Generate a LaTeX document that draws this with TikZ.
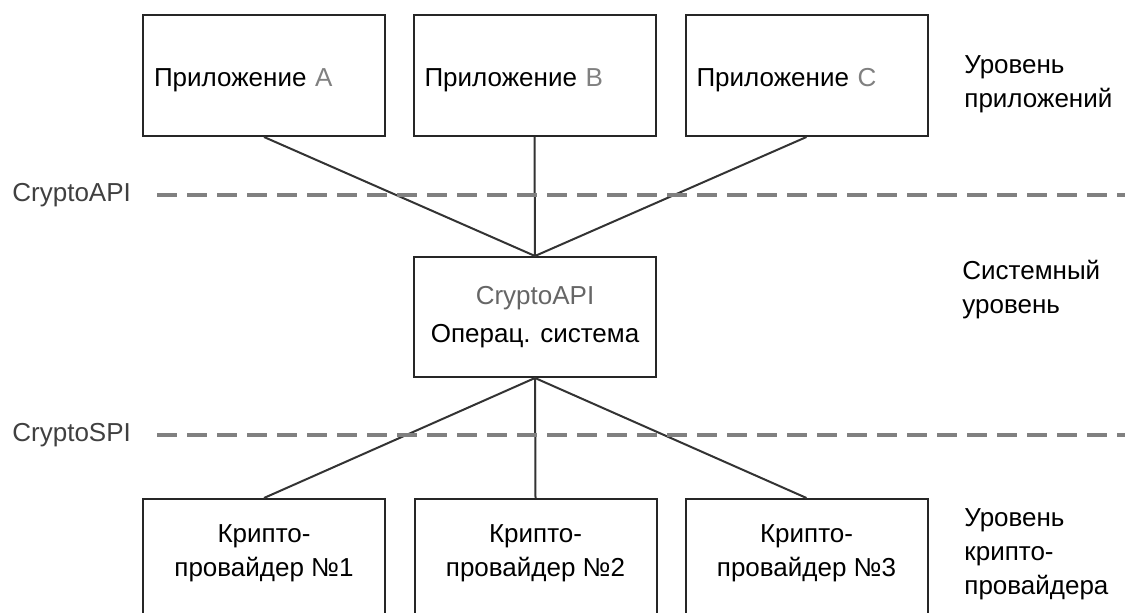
\documentclass[tikz,border=0pt]{standalone}
\usepackage{fontspec}
\setmainfont{Liberation Sans}
\usepackage{tikz}
\usepackage{xcolor}

\tikzset{
  appbox/.style={draw=black!85, line width=1pt, minimum width=121pt, minimum height=60.5pt,
    text width=110pt, inner xsep=5.5pt, text height=13pt, text depth=2pt, align=left},
  osbox/.style={draw=black!85, line width=1pt, minimum width=121pt, minimum height=60pt, align=center},
  provbox/.style={draw=black!85, line width=1pt, minimum width=121pt, inner ysep=13pt,
    text depth=20pt, align=center, anchor=north},
  link/.style={draw=black!80, line width=1pt},
  sepline/.style={draw=black!50, line width=2pt, dash pattern=on 10pt off 5pt},
  lvl/.style={anchor=west, align=left, inner sep=0pt}
}

\begin{document}
\begin{tikzpicture}[x=0.5pt, y=-0.5pt, font=\fontsize{13}{17}\selectfont]
        \useasboundingbox (0,0) rectangle (1125,613);
        \clip (0,0) rectangle (1125,613);

        % Aplicativos
        \node[appbox] (appA) at (264,75.5) {Приложение {\color{gray}A}};
        \node[appbox] (appB) at (534.5,75.5) {Приложение {\color{gray}B}};
        \node[appbox] (appC) at (806.5,75.5) {Приложение {\color{gray}C}};

        % Sistema operacional
        \node[osbox] (os) at (535,317) {{\color{black!60}CryptoAPI}\\[2pt]Операц. система};

        % Provedores
        \node[provbox] (prov1) at (264,498) {Крипто-\\провайдер №1};
        \node[provbox] (prov2) at (535.5,498) {Крипто-\\провайдер №2};
        \node[provbox] (prov3) at (806.5,498) {Крипто-\\провайдер №3};

        % Ligações
        \draw[link] (appA.south) -- (os.north);
        \draw[link] (appB.south) -- (os.north);
        \draw[link] (appC.south) -- (os.north);
        \draw[link] (os.south) -- (prov1.north);
        \draw[link] (os.south) -- (prov2.north);
        \draw[link] (os.south) -- (prov3.north);

        % Interfaces
        \node[lvl, text=black!75] (api) at (12,195) {CryptoAPI};
        \node[lvl, text=black!75] (spi) at (12,435) {CryptoSPI};
        \coordinate (apiL) at (157,195);
        \coordinate (apiR) at (1125,195);
        \coordinate (spiL) at (157,435);
        \coordinate (spiR) at (1125,435);
        \draw[sepline] (apiL) -- (apiR);
        \draw[sepline] (spiL) -- (spiR);

        % Níveis
        \node[lvl] (lvlapp) at (964,84) {Уровень\\приложений};
        \node[lvl] (lvlsys) at (962,290) {Системный\\уровень};
        \node[lvl] (lvlprov) at (964,554) {Уровень\\крипто-\\провайдера};
    \end{tikzpicture}
\end{document}
